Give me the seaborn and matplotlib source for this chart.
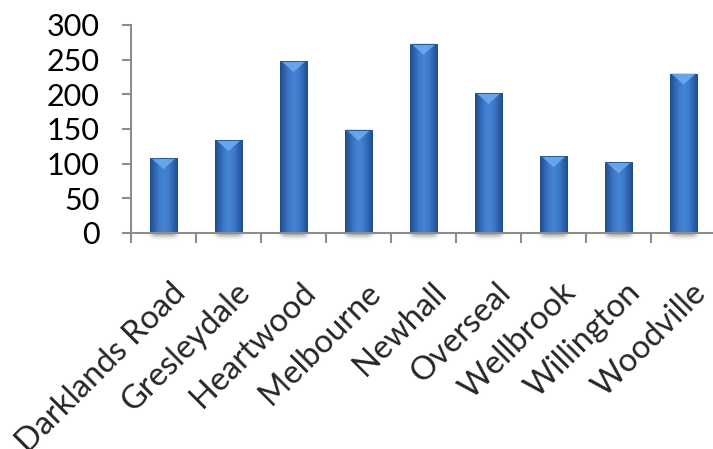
import numpy as np
import pandas as pd
import matplotlib
matplotlib.use("Agg")
import matplotlib.pyplot as plt
import matplotlib.colors as mcolors
import matplotlib.transforms as mtransforms
from matplotlib.patches import Polygon
import seaborn as sns

# Site names and counts
sites = ["Darklands Road", "Gresleydale", "Heartwood", "Melbourne", "Newhall",
         "Overseal", "Wellbrook", "Willington", "Woodville"]
counts = [108, 134, 248, 149, 273, 202, 111, 102, 230]
y_ticks = [0, 50, 100, 150, 200, 250, 300]

df = pd.DataFrame({"site": sites, "count": counts})

sns.set_theme(style="white")
plt.rcParams["font.family"] = ["Lato", "DejaVu Sans"]

W, H = 713, 449
fig = plt.figure(figsize=(W / 100, H / 100), dpi=100)
left, right_px, top_px, bottom_px = 131, 716, 25, 233
ax = fig.add_axes([left / W, (H - bottom_px) / H,
                   (right_px - left) / W, (bottom_px - top_px) / H])

sns.barplot(data=df, x="site", y="count", ax=ax, width=0.42,
            color="#3A72C0", saturation=1, edgecolor="none")

ax.set_ylim(0, 300)
ax.set_xlim(-0.5, len(sites) - 0.5)
ax.set_yticks(y_ticks)
ax.set_xlabel("")
ax.set_ylabel("")

# cylinder-like shading across each bar, with a light bevel at the top
cmap = mcolors.LinearSegmentedColormap.from_list(
    "barshade", ["#1F4A8A", "#2F64AE", "#3E7BCB", "#4585D3", "#3E7BCB", "#2F64AE", "#1F4A8A"])
grad = np.linspace(0, 1, 256).reshape(1, -1)
px_per_unit = (bottom_px - top_px) / 300.0

# soft shadow texture: gaussian falloff horizontally and vertically
gx = np.linspace(-1, 1, 64)
gy = np.linspace(0, 1, 32)
shadow_alpha = np.exp(-(gx[None, :] / 0.75) ** 6) * np.exp(-(gy[:, None] / 0.45) ** 2) * 0.35
shadow_rgba = np.zeros((32, 64, 4))
shadow_rgba[..., 3] = shadow_alpha

for p in list(ax.patches):
    x0, w, h = p.get_x(), p.get_width(), p.get_height()
    sh_h = 9 / px_per_unit
    ax.imshow(shadow_rgba, extent=(x0 - 0.06, x0 + w + 0.06, -sh_h, 0),
              aspect="auto", origin="upper", zorder=1, clip_on=False,
              interpolation="bilinear")
    im = ax.imshow(grad, extent=(x0, x0 + w, 0, h), aspect="auto", cmap=cmap,
                   zorder=3, interpolation="bicubic")
    im.set_clip_path(p)
    # top bevel: light triangle pointing down
    bev = 11 / px_per_unit
    tri = Polygon([(x0 + 0.05 * w, h), (x0 + 0.95 * w, h), (x0 + 0.5 * w, h - bev)],
                  closed=True, facecolor="#6AAAF0", edgecolor="none", alpha=0.9, zorder=4)
    ax.add_patch(tri)
    rim = Polygon([(x0, h), (x0 + w, h), (x0 + w, h - 1.2), (x0, h - 1.2)],
                  closed=True, facecolor="#2B5A9E", edgecolor="none", zorder=4)
    ax.add_patch(rim)

ax.set_ylim(0, 300)
ax.set_xlim(-0.5, len(sites) - 0.5)

for s in ["top", "right"]:
    ax.spines[s].set_visible(False)
for s in ["left", "bottom"]:
    ax.spines[s].set_color("#8C8C8C")
    ax.spines[s].set_linewidth(1.5)
    ax.spines[s].set_zorder(5)

ax.tick_params(axis="y", which="major", direction="out", length=6.5, width=1.5,
               color="#8C8C8C", pad=16, labelsize=22, labelcolor="black", left=True)
ax.tick_params(axis="x", which="major", direction="out", length=7, width=1.5,
               color="#8C8C8C", pad=6, labelsize=22, labelcolor="black", bottom=True)
# x ticks sit on the category boundaries
ax.set_xticks(np.arange(len(sites)) - 0.5, minor=False)
ax.set_xticklabels([""] * len(sites))
ax.set_xticks(np.arange(len(sites)), minor=True)
ax.set_xticklabels(sites, minor=True, rotation=45, ha="right",
                   rotation_mode="anchor", fontsize=23.5)
ax.tick_params(axis="x", which="minor", length=0, pad=14)
shift = mtransforms.ScaledTranslation(7 / 100, -25 / 100, fig.dpi_scale_trans)
for lbl in ax.get_xticklabels(minor=True):
    lbl.set_transform(lbl.get_transform() + shift)

fig.savefig("out.png", dpi=100, facecolor="white")
